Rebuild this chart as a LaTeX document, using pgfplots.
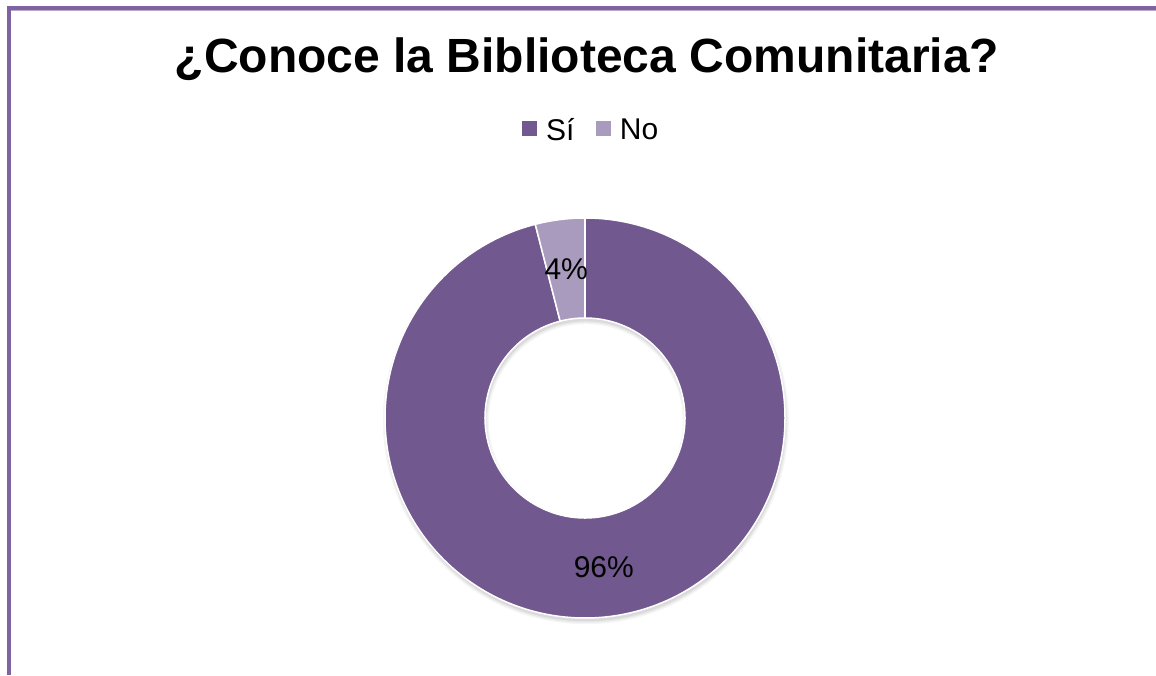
\documentclass[border=0pt]{standalone}
\usepackage{pgfplots}
\pgfplotsset{compat=1.18}
\usepackage{pgfplotstable}
\usepackage{fontspec}
\setmainfont{Liberation Sans}
\definecolor{sicol}{HTML}{71588F}
\definecolor{nocol}{HTML}{A99BBD}
\definecolor{framecol}{HTML}{7F63A1}
\definecolor{framelight}{HTML}{B9AACB}

\pgfplotstableread{
value
96
4
}\piedata

\begin{document}
\begin{tikzpicture}[x=1pt,y=1pt]
\useasboundingbox[fill=white] (0,0) rectangle (1156,675);
% frame
\draw[framelight, line width=1pt] (10.5,664.3) -- (1156,664.3);
\draw[framecol, line width=4pt] (8.5,0) -- (8.5,666.5) -- (1156,666.5);
\draw[framecol, line width=4pt] (8.5,0) -- (8.5,668.5);
% title
\node[anchor=base, inner sep=0pt, font=\fontsize{48}{58}\selectfont\bfseries] at (587,602) {¿Conoce la Biblioteca Comunitaria?};

\pgfplotstablegetelem{0}{value}\of\piedata \edef\vSi{\pgfplotsretval}
\pgfplotstablegetelem{1}{value}\of\piedata \edef\vNo{\pgfplotsretval}
\pgfmathsetmacro\tot{\vSi+\vNo}
\pgfmathsetmacro\aSi{\vSi/\tot*360}
\pgfmathsetmacro\aNo{\vNo/\tot*360}
\pgfmathsetmacro\aEnd{90-\aSi}
\pgfmathsetmacro\aStop{\aEnd-\aNo}
\pgfmathsetmacro\mSi{90-\aSi/2}
\pgfmathsetmacro\mNo{\aEnd-\aNo/2}
\pgfmathtruncatemacro\pSi{round(\vSi/\tot*100)}
\pgfmathtruncatemacro\pNo{round(\vNo/\tot*100)}

\begin{axis}[
  at={(585pt,257pt)}, anchor=center,
  scale only axis, width=400pt, height=400pt,
  xmin=-1, xmax=1, ymin=-1, ymax=1,
  hide axis, clip=false,
  legend columns=2,
  legend image code/.code={\fill[#1] (0pt,-5pt) rectangle (14pt,9pt);},
  legend style={at={(0.5125,1.22)}, anchor=center, draw=none, fill=none,
    font=\fontsize{30}{36}\selectfont,
    nodes={inner sep=0pt},
    /tikz/every odd column/.append style={column sep=10pt},
    /tikz/every even column/.append style={column sep=21pt}},
]
\addlegendimage{sicol}
\addlegendentry{Sí}
\addlegendimage{nocol}
\addlegendentry{No}
% soft shadow
\fill[black, opacity=0.06, even odd rule]
  (axis cs:0.004,-0.016) circle[radius=200pt] (axis cs:0.004,-0.016) circle[radius=100pt];
\fill[black, opacity=0.05, even odd rule]
  (axis cs:0.004,-0.016) circle[radius=201.5pt] (axis cs:0.004,-0.016) circle[radius=98.5pt];
\fill[black, opacity=0.04, even odd rule]
  (axis cs:0.004,-0.016) circle[radius=203pt] (axis cs:0.004,-0.016) circle[radius=97pt];
% slices
\fill[sicol, draw=white, line width=1.5pt]
  (axis cs:{cos(90)},{sin(90)}) arc[start angle=90, end angle=\aEnd, radius=200pt]
  -- (axis cs:{0.5*cos(\aEnd)},{0.5*sin(\aEnd)}) arc[start angle=\aEnd, end angle=90, radius=100pt] -- cycle;
\fill[nocol, draw=white, line width=1.5pt]
  (axis cs:{cos(\aEnd)},{sin(\aEnd)}) arc[start angle=\aEnd, end angle=\aStop, radius=200pt]
  -- (axis cs:{0.5*cos(\aStop)},{0.5*sin(\aStop)}) arc[start angle=\aStop, end angle=\aEnd, radius=100pt] -- cycle;
% labels
\node[font=\fontsize{30}{36}\selectfont, inner sep=0pt] at (axis cs:{0.75*cos(\mSi)},{0.75*sin(\mSi)}) {\pSi\%};
\node[font=\fontsize{30}{36}\selectfont, inner sep=0pt] at (axis cs:{0.75*cos(\mNo)},{0.75*sin(\mNo)}) {\pNo\%};
\end{axis}
\end{tikzpicture}
\end{document}
